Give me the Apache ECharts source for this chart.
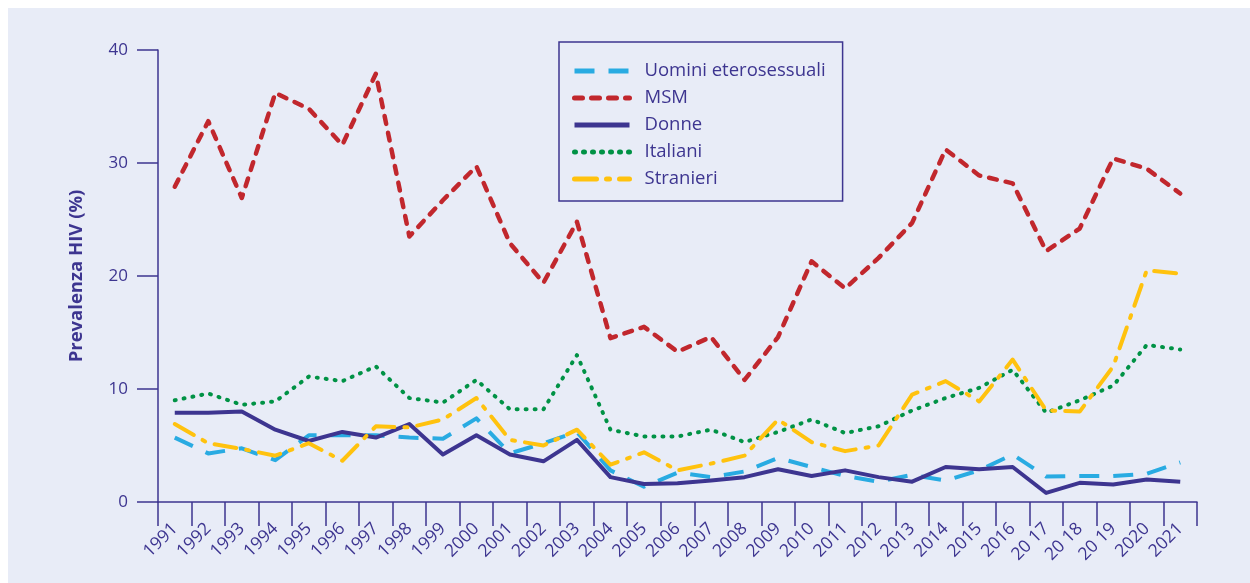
<!DOCTYPE html>
<html>
<head>
<meta charset="utf-8">
<script src="https://cdn.jsdelivr.net/npm/echarts@6/dist/echarts.min.js"></script>
<style>
  html, body { margin: 0; padding: 0; background: #ffffff; }
  #bg { position: absolute; left: 8px; top: 8px; right: 0; bottom: 0; background: #E8ECF7; }
  #chart { position: absolute; left: 0; top: 0; width: 1250px; height: 583px; }
</style>
</head>
<body>
<div id="bg"></div>
<div id="chart"></div>
<script>
const years = ['1991', '1992', '1993', '1994', '1995', '1996', '1997', '1998', '1999', '2000',
  '2001', '2002', '2003', '2004', '2005', '2006', '2007', '2008', '2009', '2010',
  '2011', '2012', '2013', '2014', '2015', '2016', '20 17', '20 18', '20 19', '2020', '2021'];

const uominiEtero = [5.7, 4.3, 4.75, 3.7, 5.9, 5.9, 5.9, 5.7, 5.6, 7.4,
  4.3, 5.2, 6.2, 2.8, 1.35, 2.6, 2.2, 2.7, 3.9, 3.1,
  2.3, 1.8, 2.4, 1.9, 2.8, 4.2, 2.25, 2.3, 2.3, 2.5, 3.5];
const msm = [27.9, 33.7, 26.9, 36.2, 34.8, 31.6, 37.9, 23.5, 26.7, 29.7,
  22.9, 19.4, 24.8, 14.5, 15.5, 13.3, 14.6, 10.8, 14.6, 21.3,
  18.9, 21.6, 24.7, 31.2, 28.9, 28.2, 22.2, 24.2, 30.4, 29.5, 27.3];
const donne = [7.9, 7.9, 8.0, 6.4, 5.4, 6.2, 5.7, 6.9, 4.2, 5.9,
  4.2, 3.6, 5.5, 2.2, 1.6, 1.65, 1.9, 2.2, 2.9, 2.3,
  2.8, 2.2, 1.8, 3.1, 2.9, 3.1, 0.8, 1.7, 1.55, 2.0, 1.8];
const italiani = [9.0, 9.6, 8.6, 8.9, 11.1, 10.7, 12.0, 9.2, 8.8, 10.8,
  8.2, 8.2, 13.0, 6.4, 5.8, 5.8, 6.4, 5.3, 6.2, 7.3,
  6.1, 6.7, 8.1, 9.2, 10.1, 11.7, 7.9, 9.0, 10.3, 13.9, 13.5];
const stranieri = [6.9, 5.2, 4.7, 4.1, 5.2, 3.65, 6.7, 6.6, 7.3, 9.2,
  5.5, 5.0, 6.4, 3.3, 4.4, 2.8, 3.4, 4.1, 7.3, 5.3,
  4.5, 5.0, 9.5, 10.7, 8.9, 12.6, 8.1, 8.0, 12.0, 20.5, 20.2];

const yTicks = [0, 10, 20, 30, 40];

const navy = '#3D3590';
const font = '"Open Sans", "Noto Sans", sans-serif';

function lineSeries(name, data, color, width, dash, cap) {
  return {
    name: name,
    type: 'line',
    data: data,
    symbol: 'none',
    showSymbol: false,
    itemStyle: { color: color },
    lineStyle: { color: color, width: width, type: dash, cap: cap || 'butt', join: 'round' },
    z: 2
  };
}

const chart = echarts.init(document.getElementById('chart'), null, { renderer: 'canvas' });
chart.setOption({
  animation: false,
  backgroundColor: 'transparent',
  grid: { left: 158, right: 53, top: 50, bottom: 81 },
  legend: {
    orient: 'vertical',
    left: 559,
    top: 42,
    padding: [19, 17, 12, 13],
    borderColor: navy,
    borderWidth: 1.5,
    itemWidth: 55,
    itemHeight: 12,
    itemGap: 7,
    itemStyle: { opacity: 0 },
    lineStyle: { width: 5 },
    textStyle: { color: navy, fontSize: 18.5, lineHeight: 20, fontFamily: font, padding: [0, 0, 0, 10] },
    data: ['Uomini eterosessuali', 'MSM', 'Donne', 'Italiani', 'Stranieri']
  },
  xAxis: {
    type: 'category',
    data: years,
    boundaryGap: true,
    axisLine: { lineStyle: { color: navy, width: 1.5 } },
    axisTick: { show: true, length: 24, lineStyle: { color: navy, width: 1.5 } },
    axisLabel: { color: navy, fontSize: 17.5, fontFamily: font, rotate: 45, margin: 24, interval: 0 }
  },
  yAxis: {
    type: 'value',
    min: yTicks[0],
    max: yTicks[yTicks.length - 1],
    interval: 10,
    name: 'Prevalenza HIV (%)',
    nameLocation: 'middle',
    nameGap: 72,
    nameTextStyle: { color: navy, fontSize: 18.5, fontWeight: 'bold', fontFamily: font },
    axisLine: { show: true, lineStyle: { color: navy, width: 1.5 } },
    axisTick: { show: true, length: 21, lineStyle: { color: navy, width: 1.5 } },
    axisLabel: { color: navy, fontSize: 17, fontFamily: font, margin: 30 },
    splitLine: { show: false }
  },
  series: [
    lineSeries('Uomini eterosessuali', uominiEtero, '#29ABE2', 4, [20, 14], 'butt'),
    lineSeries('MSM', msm, '#C1272D', 4.5, [8, 9], 'round'),
    lineSeries('Donne', donne, '#3D3590', 4, 'solid', 'butt'),
    lineSeries('Italiani', italiani, '#009245', 4, [1, 8], 'round'),
    lineSeries('Stranieri', stranieri, '#FFC20E', 4, [22, 10, 3, 10], 'round')
  ]
});
</script>
</body>
</html>
